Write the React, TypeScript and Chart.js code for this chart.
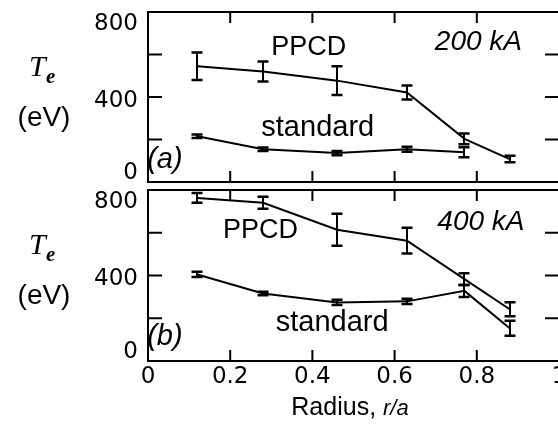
import { useEffect, useRef } from 'react';
import { Chart, registerables } from 'chart.js';

Chart.register(...registerables);

// ---- data ----
const radius = [0.12, 0.28, 0.46, 0.63, 0.77, 0.88];

const ppcd200 = [545, 520, 477, 421, 203, 108];
const ppcd200Err = [65, 47, 68, 33, 25, 15];
const std200 = [215, 154, 136, 154, 140];
const std200Err = [8, 8, 10, 12, 23];

const ppcd400 = [763, 740, 614, 563, 383, 242];
const ppcd400Err = [23, 28, 75, 60, 28, 33];
const std400 = [405, 316, 274, 279, 328, 153];
const std400Err = [12, 8, 12, 12, 28, 35];

const xTicks = [0, 0.2, 0.4, 0.6, 0.8, 1];
const xTickLabels = ['0', '0.2', '0.4', '0.6', '0.8', '1'];
const yTicks = [0, 200, 400, 600, 800];
const yLabelValues = [0, 400, 800];
const yLabelTexts = ['0', '400', '800'];

const SANS = '"Liberation Sans", Arial, sans-serif';
const DEJA = '"DejaVu Sans", sans-serif';
const SERIF = '"Liberation Serif", "Times New Roman", serif';

type Note = { text: string; x: number; y: number; font: string };

function toPoints(values: number[]) {
  return values.map((v, i) => ({ x: radius[i], y: v }));
}

function panelPlugin(notes: Note[], showX: boolean) {
  return {
    id: 'panelDecor',
    afterDatasetsDraw(chart: any) {
      const ctx: CanvasRenderingContext2D = chart.ctx;
      const xs = chart.scales.x;
      const ys = chart.scales.y;
      const a = chart.chartArea;
      ctx.save();
      ctx.strokeStyle = '#000';
      ctx.fillStyle = '#000';
      ctx.lineCap = 'butt';

      // error bars
      chart.data.datasets.forEach((ds: any) => {
        const errs: number[] = ds.errors;
        ds.data.forEach((p: any, i: number) => {
          const px = Math.round(xs.getPixelForValue(p.x));
          const yT = ys.getPixelForValue(p.y + errs[i]);
          const yB = ys.getPixelForValue(p.y - errs[i]);
          ctx.lineWidth = 2;
          ctx.beginPath();
          ctx.moveTo(px, yT);
          ctx.lineTo(px, yB);
          ctx.stroke();
          ctx.lineWidth = 2.5;
          ctx.beginPath();
          ctx.moveTo(px - 5.5, yT);
          ctx.lineTo(px + 5.5, yT);
          ctx.moveTo(px - 5.5, yB);
          ctx.lineTo(px + 5.5, yB);
          ctx.stroke();
        });
      });

      // frame
      ctx.lineWidth = 2;
      ctx.strokeRect(a.left, a.top, a.right - a.left, a.bottom - a.top);

      // inward ticks
      ctx.beginPath();
      xTicks.forEach((v) => {
        const px = xs.getPixelForValue(v);
        ctx.moveTo(px, a.top);
        ctx.lineTo(px, a.top + 11);
        ctx.moveTo(px, a.bottom);
        ctx.lineTo(px, a.bottom - 11);
      });
      yTicks.forEach((v) => {
        const py = ys.getPixelForValue(v);
        ctx.moveTo(a.left, py);
        ctx.lineTo(a.left + 14, py);
        ctx.moveTo(a.right, py);
        ctx.lineTo(a.right - 14, py);
      });
      ctx.stroke();

      // y tick labels
      ctx.font = `23px ${DEJA}`;
      ctx.textAlign = 'right';
      ctx.textBaseline = 'alphabetic';
      const cap = 23 * 0.729;
      yLabelValues.forEach((v, i) => {
        let cy = ys.getPixelForValue(v) + 1.5;
        cy = Math.max(a.top + 9.5, Math.min(a.bottom - 11, cy));
        ctx.fillText(yLabelTexts[i], a.left - 10, cy + cap / 2);
      });

      // x tick labels
      if (showX) {
        ctx.textAlign = 'center';
        xTicks.forEach((v, i) => {
          const px = xs.getPixelForValue(v);
          ctx.fillText(xTickLabels[i], px, a.bottom + 14 + cap / 2);
        });
        // x title
        const base = a.bottom + 54;
        ctx.font = `25px ${SANS}`;
        const t1 = 'Radius, ';
        const w1 = ctx.measureText(t1).width;
        ctx.font = `italic 22px ${SANS}`;
        const t2 = 'r/a';
        const w2 = ctx.measureText(t2).width;
        const start = 350 - (w1 + w2) / 2;
        ctx.textAlign = 'left';
        ctx.font = `25px ${SANS}`;
        ctx.fillText(t1, start, base);
        ctx.font = `italic 22px ${SANS}`;
        ctx.fillText(t2, start + w1, base);
      }

      // y title
      ctx.textAlign = 'left';
      ctx.font = `italic 30px ${SERIF}`;
      ctx.fillText('T', 29, a.top + 64);
      ctx.font = `italic bold 21px ${SERIF}`;
      ctx.fillText('e', 46, a.top + 71);
      ctx.textAlign = 'center';
      ctx.font = `28px ${SANS}`;
      ctx.fillText('(eV)', 44, a.top + 114);

      // annotations (data coordinates, baseline)
      notes.forEach((n) => {
        ctx.font = n.font;
        ctx.textAlign = 'center';
        ctx.fillText(n.text, xs.getPixelForValue(n.x), ys.getPixelForValue(n.y));
      });

      ctx.restore();
    },
  };
}

function makeConfig(
  ppcd: number[],
  ppcdErr: number[],
  std: number[],
  stdErr: number[],
  padding: { left: number; top: number; right: number; bottom: number },
  notes: Note[],
  showX: boolean
): any {
  const lineStyle = {
    borderColor: '#000',
    backgroundColor: '#000',
    borderWidth: 2,
    pointRadius: 0,
    tension: 0,
    fill: false,
  };
  return {
    type: 'line',
    data: {
      datasets: [
        { label: 'PPCD', data: toPoints(ppcd), errors: ppcdErr, ...lineStyle },
        { label: 'standard', data: toPoints(std), errors: stdErr, ...lineStyle },
      ],
    },
    options: {
      animation: false,
      responsive: false,
      devicePixelRatio: 1,
      layout: { padding },
      plugins: { legend: { display: false }, tooltip: { enabled: false } },
      scales: {
        x: { type: 'linear', min: 0, max: 1, display: false },
        y: { type: 'linear', min: 0, max: 800, display: false },
      },
    },
    plugins: [panelPlugin(notes, showX)],
  };
}

export default function App() {
  const topRef = useRef<HTMLCanvasElement>(null);
  const botRef = useRef<HTMLCanvasElement>(null);

  useEffect(() => {
    document.body.style.margin = '0';
    const topNotes: Note[] = [
      { text: 'PPCD', x: 0.391, y: 600, font: `27px ${SANS}` },
      { text: 'standard', x: 0.413, y: 215, font: `29px ${SANS}` },
      { text: '200 kA', x: 0.804, y: 622, font: `italic 28px ${SANS}` },
      { text: '(a)', x: 0.041, y: 65, font: `italic 29px ${SANS}` },
    ];
    const botNotes: Note[] = [
      { text: 'PPCD', x: 0.274, y: 577, font: `27px ${SANS}` },
      { text: 'standard', x: 0.448, y: 140, font: `29px ${SANS}` },
      { text: '400 kA', x: 0.81, y: 614, font: `italic 28px ${SANS}` },
      { text: '(b)', x: 0.041, y: 74, font: `italic 29px ${SANS}` },
    ];
    const c1 = new Chart(
      topRef.current as HTMLCanvasElement,
      makeConfig(ppcd200, ppcd200Err, std200, std200Err, { left: 148, top: 12, right: 11, bottom: 4 }, topNotes, false)
    );
    const c2 = new Chart(
      botRef.current as HTMLCanvasElement,
      makeConfig(ppcd400, ppcd400Err, std400, std400Err, { left: 148, top: 4, right: 11, bottom: 63 }, botNotes, true)
    );
    return () => {
      c1.destroy();
      c2.destroy();
    };
  }, []);

  return (
    <div
      style={{
        position: 'fixed',
        left: 0,
        top: 0,
        width: 558,
        height: 424,
        overflow: 'hidden',
        background: '#fff',
      }}
    >
      <canvas ref={topRef} width={570} height={186} style={{ position: 'absolute', left: 0, top: 0, width: 570, height: 186 }} />
      <canvas ref={botRef} width={570} height={238} style={{ position: 'absolute', left: 0, top: 186, width: 570, height: 238 }} />
    </div>
  );
}
